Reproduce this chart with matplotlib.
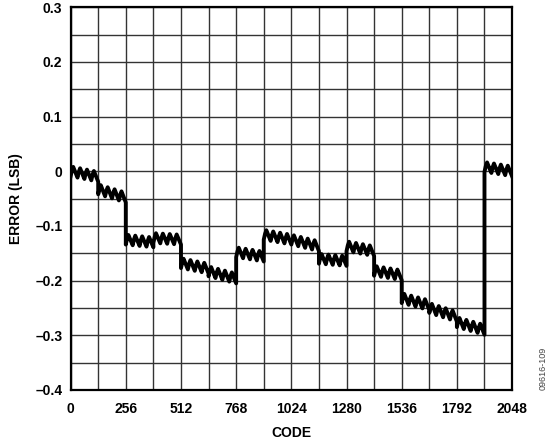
import matplotlib
matplotlib.use("Agg")
import matplotlib.pyplot as plt
import numpy as np

plt.rcParams["font.family"] = ["Liberation Sans", "DejaVu Sans"]
plt.rcParams["font.weight"] = "bold"

# 16 segments of 128 codes each: error level at start / end of each segment (LSB)
seg_width = 128
seg_start = [0.000, -0.033, -0.125, -0.122, -0.168, -0.183, -0.148, -0.116,
             -0.125, -0.160, -0.137, -0.182, -0.232, -0.250, -0.276, 0.008]
seg_end = [-0.010, -0.048, -0.130, -0.125, -0.178, -0.196, -0.156, -0.125,
           -0.137, -0.164, -0.146, -0.190, -0.245, -0.266, -0.290, 0.000]

# small ripple inside each segment: 4 teeth per segment (code offset, LSB offset)
tooth_codes = [0, 6, 12, 22, 32]
tooth_vals = [-0.009, 0.002, 0.009, 0.000, -0.009]
teeth_per_seg = 4

x_ticks = [0, 256, 512, 768, 1024, 1280, 1536, 1792, 2048]
y_ticks = [0.3, 0.2, 0.1, 0, -0.1, -0.2, -0.3, -0.4]
y_labels = ["0.3", "0.2", "0.1", "0", "\u20130.1", "\u20130.2", "\u20130.3", "\u20130.4"]

codes = []
errs = []
tooth_len = seg_width // teeth_per_seg
for i in range(len(seg_start)):
    base = i * seg_width
    for k in range(teeth_per_seg):
        for c, v in zip(tooth_codes, tooth_vals):
            if c == tooth_len and k < teeth_per_seg - 1:
                continue
            x = base + k * tooth_len + c
            frac = (x - base) / seg_width
            trend = seg_start[i] + (seg_end[i] - seg_start[i]) * frac
            codes.append(x)
            errs.append(trend + v)

fig = plt.figure(figsize=(5.56, 4.46), dpi=100)
ax = fig.add_axes([0.127, 0.1256, 0.794, 0.858])

ax.plot(codes, errs, color="black", linewidth=2.8, solid_joinstyle="round")

ax.set_xlim(0, 2048)
ax.set_ylim(-0.4, 0.3)
ax.set_xticks(x_ticks)
ax.set_xticks(np.arange(0, 2049, 128), minor=True)
ax.set_yticks(y_ticks)
ax.set_yticklabels(y_labels)
ax.set_yticks(np.arange(-0.4, 0.301, 0.05), minor=True)
ax.grid(which="both", color="#333333", linewidth=1.0)
ax.set_axisbelow(True)
ax.tick_params(which="both", length=0, labelsize=10)
ax.tick_params(axis="x", pad=8.5)
ax.tick_params(axis="y", pad=6)
for sp in ax.spines.values():
    sp.set_linewidth(1.6)

ax.set_xlabel("CODE", fontsize=10, fontweight="bold", labelpad=7)
ax.set_ylabel("ERROR (LSB)", fontsize=10, fontweight="bold", labelpad=9)

fig.text(0.977, 0.125, "09616-109", rotation=90, fontsize=6.5, fontweight="normal",
         color="#444444", ha="center", va="bottom")

fig.savefig("out.png", dpi=100)
